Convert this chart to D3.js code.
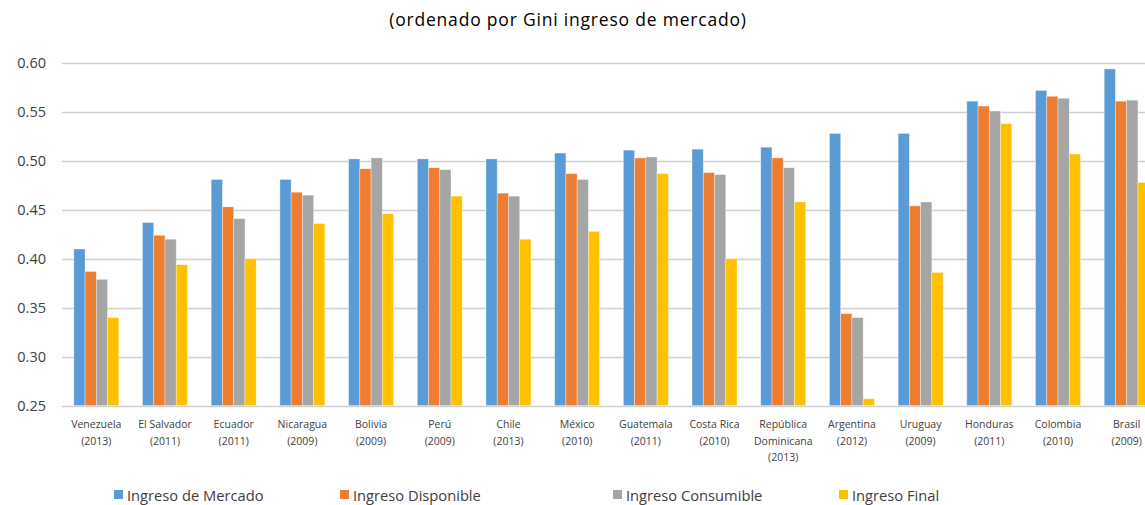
<!DOCTYPE html>
<html>
<head>
<meta charset="utf-8">
<script src="https://cdn.jsdelivr.net/npm/d3@7"></script>
<style>
  body { margin: 0; background: #fff; }
  text { font-family: "Open Sans", sans-serif; }
</style>
</head>
<body>
<div id="viz"></div>
<script>
var countries = ['Venezuela', 'El Salvador', 'Ecuador', 'Nicaragua', 'Bolivia', 'Perú', 'Chile', 'México',
                 'Guatemala', 'Costa Rica', 'República Dominicana', 'Argentina', 'Uruguay', 'Honduras', 'Colombia', 'Brasil'];
var labelLines = [['Venezuela', '(2013)'], ['El Salvador', '(2011)'], ['Ecuador', '(2011)'], ['Nicaragua', '(2009)'],
                  ['Bolivia', '(2009)'], ['Perú', '(2009)'], ['Chile', '(2013)'], ['México', '(2010)'],
                  ['Guatemala', '(2011)'], ['Costa Rica', '(2010)'], ['República', 'Dominicana', '(2013)'], ['Argentina', '(2012)'],
                  ['Uruguay', '(2009)'], ['Honduras', '(2011)'], ['Colombia', '(2010)'], ['Brasil', '(2009)']];
var seriesNames = ['Ingreso de Mercado', 'Ingreso Disponible', 'Ingreso Consumible', 'Ingreso Final'];
var mercado     = [0.410, 0.437, 0.481, 0.481, 0.502, 0.502, 0.502, 0.508, 0.511, 0.512, 0.514, 0.528, 0.528, 0.561, 0.572, 0.594];
var disponible  = [0.387, 0.424, 0.453, 0.468, 0.492, 0.493, 0.467, 0.487, 0.503, 0.488, 0.503, 0.344, 0.454, 0.556, 0.566, 0.561];
var consumible  = [0.379, 0.420, 0.441, 0.465, 0.503, 0.491, 0.464, 0.481, 0.504, 0.486, 0.493, 0.340, 0.458, 0.551, 0.564, 0.562];
var final       = [0.340, 0.394, 0.400, 0.436, 0.446, 0.464, 0.420, 0.428, 0.487, 0.400, 0.458, 0.257, 0.386, 0.538, 0.507, 0.478];
var yTicks = [0.25, 0.30, 0.35, 0.40, 0.45, 0.50, 0.55, 0.60];
var colors = ['#5B9BD5', '#ED7D31', '#A5A5A5', '#FFC000'];

var width = 1145, height = 505;
var allSeries = [mercado, disponible, consumible, final];

var svg = d3.select('#viz').append('svg')
  .attr('width', width)
  .attr('height', height);

var xScale = d3.scaleBand()
  .domain(countries)
  .range([62, 1161])
  .paddingInner(0.345)
  .paddingOuter(0.172);

var xInner = d3.scaleBand()
  .domain(seriesNames)
  .range([0, xScale.bandwidth()]);

var yScale = d3.scaleLinear()
  .domain([0.25, 0.60])
  .range([405.6, 63]);

svg.append('text')
  .attr('x', 568)
  .attr('y', 26)
  .attr('text-anchor', 'middle')
  .attr('font-size', 17.5)
  .attr('letter-spacing', 0.8)
  .attr('fill', '#000')
  .text('(ordenado por Gini ingreso de mercado)');

// gridlines
svg.append('g').selectAll('line')
  .data(yTicks)
  .enter().append('line')
    .attr('x1', 62)
    .attr('x2', width)
    .attr('y1', function(d) { return Math.round(yScale(d)) + 0.5; })
    .attr('y2', function(d) { return Math.round(yScale(d)) + 0.5; })
    .attr('stroke', '#d0d0d0')
    .attr('stroke-width', 1.3);

svg.append('g').selectAll('text')
  .data(yTicks)
  .enter().append('text')
    .attr('x', 46)
    .attr('y', function(d) { return yScale(d) + 5; })
    .attr('text-anchor', 'end')
    .attr('font-size', 14.5)
    .attr('fill', '#404040')
    .text(function(d) { return d3.format('.2f')(d); });

// bars
var groups = svg.append('g').selectAll('g')
  .data(countries)
  .enter().append('g')
    .attr('transform', function(d) { return 'translate(' + xScale(d) + ',0)'; });

groups.selectAll('rect')
  .data(function(d, i) {
    return allSeries.map(function(s, j) { return { key: seriesNames[j], value: s[i], k: j }; });
  })
  .enter().append('rect')
    .attr('x', function(d) { return xInner(d.key); })
    .attr('width', xInner.bandwidth())
    .attr('y', function(d) { return yScale(d.value); })
    .attr('height', function(d) { return yScale(0.25) - yScale(d.value); })
    .attr('fill', function(d) { return colors[d.k]; })
    .attr('stroke', '#fff')
    .attr('stroke-opacity', 0.5)
    .attr('stroke-width', 0.7);

// category labels
var labels = svg.append('g').selectAll('text')
  .data(countries)
  .enter().append('text')
    .attr('x', function(d) { return xScale(d) + xScale.bandwidth() / 2; })
    .attr('y', 428)
    .attr('text-anchor', 'middle')
    .attr('font-size', 10.5)
    .attr('fill', '#404040');

labels.selectAll('tspan')
  .data(function(d, i) { return labelLines[i]; })
  .enter().append('tspan')
    .attr('x', function() { return d3.select(this.parentNode).attr('x'); })
    .attr('dy', function(d, i) { return i === 0 ? 0 : 16.5; })
    .text(function(d) { return d; });

// legend
var legendX = [114, 340, 613, 839];
var legend = svg.append('g').selectAll('g')
  .data(seriesNames)
  .enter().append('g')
    .attr('transform', function(d, i) { return 'translate(' + legendX[i] + ',489)'; });

legend.append('rect')
  .attr('width', 9)
  .attr('height', 9)
  .attr('y', 1)
  .attr('fill', function(d, i) { return colors[i]; });

legend.append('text')
  .attr('x', 13)
  .attr('y', 12)
  .attr('font-size', 14.7)
  .attr('fill', '#404040')
  .text(function(d) { return d; });
</script>
</body>
</html>
